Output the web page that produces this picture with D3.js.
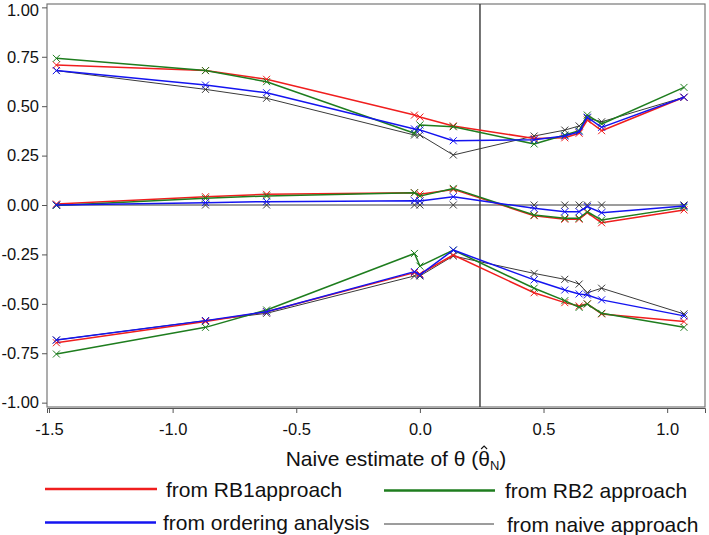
<!DOCTYPE html>
<html><head><meta charset="utf-8">
<script src="https://cdn.jsdelivr.net/npm/d3@7"></script>
<style>
html,body{margin:0;padding:0;background:#fff;}
svg text{font-family:"Liberation Sans",Arial,sans-serif;fill:#111;}
</style></head>
<body><svg id="c" width="709" height="535"></svg>
<script>
// ---- data ----
const xVals = [-1.47, -0.867, -0.62, -0.022, 0.0, 0.135, 0.462, 0.586, 0.644, 0.677, 0.735, 1.068];

const rb1Upper = [0.708, 0.68, 0.636, 0.455, 0.445, 0.40, 0.337, 0.34, 0.363, 0.43, 0.376, 0.545];
const rb2Upper = [0.742, 0.68, 0.624, 0.363, 0.405, 0.396, 0.309, 0.354, 0.376, 0.455, 0.41, 0.595];
const ordUpper = [0.68, 0.607, 0.568, 0.385, 0.38, 0.325, 0.33, 0.349, 0.371, 0.444, 0.393, 0.545];
const naiUpper = [0.68, 0.585, 0.54, 0.354, 0.355, 0.253, 0.349, 0.379, 0.40, 0.44, 0.421, 0.545];

const rb1Mid = [0.005, 0.042, 0.054, 0.062, 0.055, 0.079, -0.054, -0.072, -0.072, -0.039, -0.09, -0.025];
const rb2Mid = [-0.002, 0.034, 0.046, 0.062, 0.045, 0.084, -0.051, -0.067, -0.067, -0.034, -0.076, -0.012];
const ordMid = [0.0, 0.012, 0.017, 0.022, 0.02, 0.042, -0.017, -0.034, -0.034, -0.008, -0.039, -0.005];
const naiMid = [0, 0, 0, 0, 0, 0, 0, 0, 0, 0, 0, 0];

const rb1Lower = [-0.697, -0.59, -0.54, -0.342, -0.349, -0.253, -0.444, -0.494, -0.511, -0.5, -0.551, -0.59];
const rb2Lower = [-0.754, -0.619, -0.531, -0.245, -0.309, -0.228, -0.421, -0.484, -0.518, -0.501, -0.548, -0.619];
const ordLower = [-0.683, -0.585, -0.54, -0.337, -0.354, -0.228, -0.379, -0.43, -0.45, -0.455, -0.48, -0.561];
const naiLower = [-0.683, -0.585, -0.548, -0.359, -0.359, -0.258, -0.346, -0.376, -0.40, -0.444, -0.421, -0.551];

const xTicks = [-1.5, -1.0, -0.5, 0.0, 0.5, 1.0];
const yTicks = [-1.0, -0.75, -0.5, -0.25, 0.0, 0.25, 0.5, 0.75, 1.0];
const refX = 0.243;

const seriesNames = ["from RB1approach", "from RB2 approach", "from ordering analysis", "from naive approach"];
const seriesColors = ["#f01e1e", "#1e7d1e", "#1414f0", "#3a3a3a"];
const seriesWidths = [1.5, 1.5, 1.5, 1];

// ---- layout ----
const svg = d3.select("#c");
const L = 47, R = 705, T = 4, B = 407;
const x = d3.scaleLinear().domain([-1.508, 1.153]).range([L, R]);
const y = d3.scaleLinear().domain([-1.022, 1.017]).range([B, T]);

// frame
svg.append("rect").attr("x", L).attr("y", T).attr("width", R - L).attr("height", B - T)
  .attr("fill", "none").attr("stroke", "#777").attr("stroke-width", 1.2);

// y axis
const yAx = svg.append("g").attr("transform", `translate(${L},0)`)
  .call(d3.axisLeft(y).tickValues(yTicks).tickFormat(d3.format(".2f")).tickSize(5).tickPadding(3));
yAx.select(".domain").remove();
yAx.selectAll("line").attr("stroke", "#555");
yAx.selectAll("text").style("font-size", "16.5px").attr("fill", "#111")
  .text(d => d3.format(".2f")(d).replace("−", "-"))
  .attr("dy", d => d === 1.0 ? "0.47em" : "0.32em");

// x axis
const xAx = svg.append("g").attr("transform", `translate(0,${B + 1})`)
  .call(d3.axisBottom(x).tickValues(xTicks).tickFormat(d3.format(".1f")).tickSize(5).tickPadding(10));
xAx.select(".domain").attr("stroke", "#555");
xAx.selectAll("line").attr("stroke", "#555");
xAx.selectAll("text").style("font-size", "16.5px").attr("fill", "#111").text(d => d3.format(".1f")(d).replace("−", "-"));

// reference vertical line
svg.append("line").attr("x1", x(refX)).attr("x2", x(refX)).attr("y1", T).attr("y2", B)
  .attr("stroke", "#444").attr("stroke-width", 1.5);

const groups = [
  [rb1Upper, rb1Mid, rb1Lower],
  [rb2Upper, rb2Mid, rb2Lower],
  [ordUpper, ordMid, ordLower],
  [naiUpper, naiMid, naiLower]
];
const line = d3.line().x((d, i) => x(xVals[i])).y(d => y(d));
const plot = svg.append("g");
const drawOrder = [3, 0, 1, 2];
drawOrder.forEach(si => {
  groups[si].forEach(vals => {
    plot.append("path").datum(vals).attr("d", line).attr("fill", "none")
      .attr("stroke", seriesColors[si]).attr("stroke-width", seriesWidths[si]).attr("stroke-linejoin", "round");
    const s = 3.5;
    plot.selectAll(null).data(vals).enter().append("path")
      .attr("d", (d, i) => {
        const cx = x(xVals[i]), cy = y(d);
        return `M${cx - s},${cy - s}L${cx + s},${cy + s}M${cx - s},${cy + s}L${cx + s},${cy - s}`;
      })
      .attr("stroke", seriesColors[si]).attr("stroke-width", 1).attr("fill", "none");
  });
});

// axis title
const title = svg.append("text").attr("x", 396).attr("y", 466).attr("text-anchor", "middle").style("font-size", "21px");
title.append("tspan").text("Naive estimate of θ (");
title.append("tspan").text("θ");
title.append("tspan").attr("dy", 4).style("font-size", "13px").text("N");
title.append("tspan").attr("dy", -4).text(")");
// hat over the second theta, drawn as a small chevron
const tn = title.node();
const idx = "Naive estimate of θ (".length;
const ext = tn.getExtentOfChar(idx);
const hx = ext.x + ext.width / 2, hy = ext.y + 1;
svg.append("path").attr("d", `M${hx - 3},${hy + 1}L${hx},${hy - 2}L${hx + 3},${hy + 1}`)
  .attr("fill", "none").attr("stroke", "#111").attr("stroke-width", 1.1);

// legend
const legendPos = [
  {lx1: 45, lx2: 157, ly: 489, tx: 166},
  {lx1: 384, lx2: 495, ly: 490.5, tx: 505},
  {lx1: 45, lx2: 156, ly: 522.5, tx: 163},
  {lx1: 384, lx2: 494, ly: 524, tx: 507}
];
seriesNames.forEach((name, i) => {
  const p = legendPos[i];
  svg.append("line").attr("x1", p.lx1).attr("x2", p.lx2).attr("y1", p.ly).attr("y2", p.ly)
    .attr("stroke", seriesColors[i]).attr("stroke-width", i === 3 ? 1 : 2.5);
  svg.append("text").attr("x", p.tx).attr("y", p.ly + 7.5).style("font-size", "21px").text(name);
});
</script></body></html>
